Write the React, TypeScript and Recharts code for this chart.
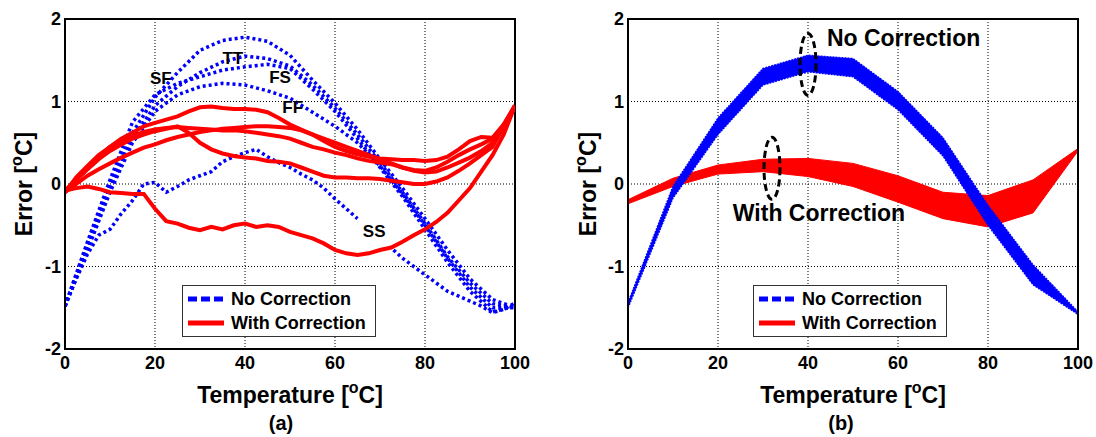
import React from 'react';
import {
  LineChart,
  Line,
  ComposedChart,
  Area,
  XAxis,
  YAxis,
  CartesianGrid,
  ReferenceArea,
  ReferenceDot,
} from 'recharts';

// ---- panel (a): measured error curves ----
const tempStep5 = [0, 5, 10, 15, 20, 25, 30, 35, 40, 45, 50, 55, 60, 65, 70, 75, 80, 85, 90, 95, 100];
const ttErr = [-1.48, -0.72, 0.0, 0.62, 1.05, 1.35, 1.62, 1.74, 1.78, 1.73, 1.56, 1.26, 0.98, 0.66, 0.3, -0.05, -0.42, -0.8, -1.15, -1.4, -1.5];
const fsErr = [-1.48, -0.78, -0.05, 0.55, 0.95, 1.18, 1.35, 1.48, 1.55, 1.52, 1.43, 1.2, 0.92, 0.6, 0.26, -0.1, -0.48, -0.88, -1.2, -1.45, -1.5];
const ffErr = [-1.48, -0.8, -0.1, 0.5, 0.88, 1.08, 1.18, 1.22, 1.2, 1.13, 1.04, 0.87, 0.7, 0.5, 0.22, -0.12, -0.5, -0.9, -1.25, -1.5, -1.5];
const sfErr = [-1.48, -0.7, 0.05, 0.75, 1.08, 1.22, 1.3, 1.38, 1.42, 1.45, 1.4, 1.15, 0.88, 0.55, 0.2, -0.15, -0.55, -0.95, -1.3, -1.55, -1.48];

const ssTempA = [0, 2.5, 5, 7.5, 10, 12.5, 15, 17.5, 20, 22.5, 25, 27.5, 30, 32.5, 35, 37.5, 40, 42.5, 45, 47.5, 50, 52.5, 55, 57.5, 60, 62.5, 65];
const ssErrA = [-1.48, -1.15, -0.85, -0.62, -0.55, -0.36, -0.2, 0.0, 0.02, -0.1, -0.03, 0.05, 0.1, 0.15, 0.27, 0.33, 0.38, 0.42, 0.33, 0.26, 0.2, 0.12, 0.05, -0.05, -0.18, -0.3, -0.42];
const ssTempB = [73, 75, 77.5, 80, 82.5, 85, 87.5, 90, 92.5, 95, 97.5, 100];
const ssErrB = [-0.8, -0.9, -1.0, -1.1, -1.2, -1.3, -1.36, -1.42, -1.48, -1.56, -1.52, -1.44];

const tempStep25 = [0, 2.5, 5, 7.5, 10, 12.5, 15, 17.5, 20, 22.5, 25, 27.5, 30, 32.5, 35, 37.5, 40, 42.5, 45, 47.5, 50, 52.5, 55, 57.5, 60, 62.5, 65, 67.5, 70, 72.5, 75, 77.5, 80, 82.5, 85, 87.5, 90, 92.5, 95, 97.5, 100];
const corr1 = [-0.08, 0.05, 0.18, 0.32, 0.45, 0.55, 0.62, 0.7, 0.74, 0.78, 0.82, 0.88, 0.93, 0.94, 0.92, 0.91, 0.91, 0.9, 0.87, 0.8, 0.72, 0.66, 0.6, 0.52, 0.45, 0.4, 0.36, 0.33, 0.31, 0.3, 0.29, 0.29, 0.28, 0.29, 0.33, 0.42, 0.52, 0.57, 0.56, 0.72, 0.95];
const corr2 = [-0.1, 0.0, 0.1, 0.18, 0.25, 0.32, 0.38, 0.44, 0.48, 0.53, 0.57, 0.6, 0.63, 0.65, 0.67, 0.68, 0.69, 0.7, 0.7, 0.69, 0.68, 0.65, 0.6, 0.55, 0.5, 0.45, 0.4, 0.35, 0.3, 0.25, 0.2, 0.16, 0.14, 0.15, 0.2, 0.26, 0.32, 0.4, 0.5, 0.68, 0.95];
const corr3 = [-0.1, 0.08, 0.22, 0.35, 0.45, 0.52, 0.58, 0.63, 0.66, 0.68, 0.69, 0.68, 0.67, 0.66, 0.65, 0.65, 0.64, 0.62, 0.6, 0.58, 0.55, 0.5, 0.45, 0.42, 0.38, 0.35, 0.31, 0.28, 0.26, 0.24, 0.2, 0.17, 0.16, 0.2, 0.27, 0.35, 0.42, 0.48, 0.55, 0.72, 0.95];
const corr4 = [-0.1, 0.05, 0.18, 0.3, 0.4, 0.48, 0.55, 0.6, 0.64, 0.67, 0.7, 0.62, 0.5, 0.42, 0.37, 0.34, 0.32, 0.31, 0.28, 0.27, 0.25, 0.2, 0.15, 0.1, 0.08, 0.08, 0.07, 0.07, 0.06, 0.04, 0.02, 0.0, 0.0, 0.03, 0.08, 0.16, 0.25, 0.35, 0.45, 0.7, 0.95];
const corr5 = [-0.08, -0.05, -0.03, -0.06, -0.1, -0.11, -0.12, -0.12, -0.3, -0.45, -0.48, -0.53, -0.56, -0.52, -0.55, -0.5, -0.48, -0.52, -0.5, -0.52, -0.58, -0.62, -0.66, -0.72, -0.8, -0.84, -0.86, -0.84, -0.8, -0.77, -0.7, -0.62, -0.55, -0.46, -0.35, -0.2, -0.05, 0.15, 0.35, 0.6, 0.95];

// ---- panel (b): simulated error bands ----
const tempStep10 = [0, 10, 20, 30, 40, 50, 60, 70, 80, 90, 100];
const noCorrLo = [-1.5, -0.17, 0.6, 1.2, 1.36, 1.3, 0.9, 0.34, -0.5, -1.22, -1.58];
const noCorrHi = [-1.44, -0.03, 0.8, 1.4, 1.56, 1.52, 1.12, 0.56, -0.26, -0.98, -1.55];
const withCorrLo = [-0.24, -0.03, 0.12, 0.15, 0.09, -0.03, -0.22, -0.42, -0.52, -0.35, 0.4];
const withCorrHi = [-0.19, 0.07, 0.23, 0.3, 0.31, 0.25, 0.1, -0.1, -0.14, 0.05, 0.43];

const xTicks = [0, 20, 40, 60, 80, 100];
const yTicks = [-2, -1, 0, 1, 2];

const FONT = '"Liberation Sans", Arial, sans-serif';
const BLUE = '#0000ff';
const RED = '#ff0000';

const pts = (xs: number[], ys: number[]) => xs.map((t, i) => ({ t, v: ys[i] }));

const bandData = tempStep10.map((t, i) => ({
  t,
  blue: [noCorrLo[i], noCorrHi[i]],
  red: [withCorrLo[i], withCorrHi[i]],
}));

const tickStyle = { fontSize: 18, fontWeight: 'bold', fill: '#000', fontFamily: FONT };

const textShape = (s: string, size: number, anchor: string = 'middle') => (p: any) => (
  <text
    x={p.cx}
    y={p.cy}
    textAnchor={anchor}
    dominantBaseline="central"
    fontSize={size}
    fontWeight="bold"
    fontFamily={FONT}
    fill="#000"
  >
    {s}
  </text>
);

const ellipseShape = (p: any) => (
  <ellipse
    cx={p.cx}
    cy={p.cy}
    rx={8}
    ry={31}
    fill="none"
    stroke="#000"
    strokeWidth={3}
    strokeDasharray="7 4"
  />
);

const Legend: React.FC<{ left: number; top: number }> = ({ left, top }) => (
  <div
    style={{
      position: 'absolute',
      left,
      top,
      width: 192,
      height: 50,
      border: '1px solid #333',
      background: '#fff',
      fontFamily: FONT,
      fontWeight: 'bold',
      fontSize: 18,
    }}
  >
    <div style={{ position: 'absolute', left: 4, top: 2, display: 'flex', alignItems: 'center', height: 22 }}>
      <svg width={38} height={10}>
        <line x1={1} y1={5} x2={37} y2={5} stroke={BLUE} strokeWidth={5} strokeDasharray="9 4" />
      </svg>
      <span style={{ marginLeft: 6 }}>No Correction</span>
    </div>
    <div style={{ position: 'absolute', left: 4, top: 26, display: 'flex', alignItems: 'center', height: 22 }}>
      <svg width={38} height={10}>
        <line x1={1} y1={5} x2={37} y2={5} stroke={RED} strokeWidth={5} />
      </svg>
      <span style={{ marginLeft: 6 }}>With Correction</span>
    </div>
  </div>
);

const Sup: React.FC = () => (
  <span style={{ fontSize: 16, position: 'relative', top: -10, lineHeight: 0 }}>o</span>
);

const AxisTitles: React.FC<{ plotLeft: number; yLabelX: number; tag: string; tagX: number }> = ({ plotLeft, yLabelX, tag, tagX }) => (
  <>
    <div
      style={{
        position: 'absolute',
        left: plotLeft + 225 - 150,
        top: 381,
        width: 300,
        textAlign: 'center',
        fontFamily: FONT,
        fontWeight: 'bold',
        fontSize: 23,
        lineHeight: '28px',
      }}
    >
      Temperature [<Sup />C]
    </div>
    <div
      style={{
        position: 'absolute',
        left: tagX - 30,
        top: 411,
        width: 60,
        textAlign: 'center',
        fontFamily: FONT,
        fontWeight: 'bold',
        fontSize: 20,
        lineHeight: '24px',
      }}
    >
      {tag}
    </div>
    <div
      style={{
        position: 'absolute',
        left: yLabelX - 100,
        top: 184 - 14,
        width: 200,
        height: 28,
        textAlign: 'center',
        fontFamily: FONT,
        fontWeight: 'bold',
        fontSize: 23,
        lineHeight: '28px',
        transform: 'rotate(-90deg)',
      }}
    >
      Error [<Sup />C]
    </div>
  </>
);

const dotted = { stroke: BLUE, strokeWidth: 3.5, strokeDasharray: '3 3', dot: false, isAnimationActive: false, type: 'linear' as const };
const solid = { stroke: RED, strokeWidth: 4, dot: false, isAnimationActive: false, type: 'linear' as const };

const App: React.FC = () => {
  const margin = { top: 19, right: 25, bottom: 58, left: 15 };
  const marginB = { top: 19, right: 18, bottom: 58, left: 18 };

  return (
    <div style={{ position: 'absolute', left: 0, top: 0, width: 1096, height: 437, background: '#fff', overflow: 'hidden' }}>
      <div style={{ position: 'absolute', left: 0, top: 0 }}>
        <LineChart width={540} height={437} margin={margin}>
          <CartesianGrid stroke="#000" strokeDasharray="1 2" strokeWidth={1} />
          <XAxis
            type="number"
            dataKey="t"
            domain={[0, 100]}
            ticks={xTicks}
            height={30}
            tickSize={0}
            tickMargin={7}
            tick={tickStyle}
            axisLine={{ stroke: '#000', strokeWidth: 2 }}
            allowDataOverflow
          />
          <YAxis
            type="number"
            domain={[-2, 2]}
            ticks={yTicks}
            width={50}
            tickSize={0}
            tickMargin={4}
            tick={tickStyle}
            axisLine={{ stroke: '#000', strokeWidth: 2 }}
            allowDataOverflow
          />
          <Line data={pts(tempStep5, ttErr)} dataKey="v" {...dotted} />
          <Line data={pts(tempStep5, fsErr)} dataKey="v" {...dotted} />
          <Line data={pts(tempStep5, ffErr)} dataKey="v" {...dotted} />
          <Line data={pts(tempStep5, sfErr)} dataKey="v" {...dotted} />
          <Line data={pts(ssTempA, ssErrA)} dataKey="v" {...dotted} />
          <Line data={pts(ssTempB, ssErrB)} dataKey="v" {...dotted} />
          <Line data={pts(tempStep25, corr1)} dataKey="v" {...solid} />
          <Line data={pts(tempStep25, corr2)} dataKey="v" {...solid} />
          <Line data={pts(tempStep25, corr3)} dataKey="v" {...solid} />
          <Line data={pts(tempStep25, corr4)} dataKey="v" {...solid} />
          <Line data={pts(tempStep25, corr5)} dataKey="v" {...solid} />
          <ReferenceDot x={21.3} y={1.28} shape={textShape('SF', 17)} />
          <ReferenceDot x={37.3} y={1.52} shape={textShape('TT', 17)} />
          <ReferenceDot x={47.8} y={1.29} shape={textShape('FS', 17)} />
          <ReferenceDot x={50.6} y={0.93} shape={textShape('FF', 17)} />
          <ReferenceDot x={68.7} y={-0.58} shape={textShape('SS', 17)} />
          <ReferenceArea x1={0} x2={100} y1={-2} y2={2} fill="none" stroke="#000" strokeWidth={2} />
        </LineChart>
      </div>

      <div style={{ position: 'absolute', left: 560, top: 0 }}>
        <ComposedChart width={536} height={437} margin={marginB} data={bandData}>
          <CartesianGrid stroke="#000" strokeDasharray="1 2" strokeWidth={1} />
          <XAxis
            type="number"
            dataKey="t"
            domain={[0, 100]}
            ticks={xTicks}
            height={30}
            tickSize={0}
            tickMargin={7}
            tick={tickStyle}
            axisLine={{ stroke: '#000', strokeWidth: 2 }}
            allowDataOverflow
          />
          <YAxis
            type="number"
            domain={[-2, 2]}
            ticks={yTicks}
            width={50}
            tickSize={0}
            tickMargin={4}
            tick={tickStyle}
            axisLine={{ stroke: '#000', strokeWidth: 2 }}
            allowDataOverflow
          />
          <Area
            type="linear"
            dataKey="red"
            stroke={RED}
            strokeWidth={1}
            fill={RED}
            fillOpacity={1}
            isAnimationActive={false}
          />
          <Area
            type="linear"
            dataKey="blue"
            stroke={BLUE}
            strokeWidth={1.5}
            strokeDasharray="2 1"
            fill={BLUE}
            fillOpacity={1}
            isAnimationActive={false}
          />
          <ReferenceDot x={40} y={1.45} shape={ellipseShape} />
          <ReferenceDot x={32} y={0.19} shape={ellipseShape} />
          <ReferenceDot x={44.2} y={1.77} shape={textShape('No Correction', 23, 'start')} />
          <ReferenceDot x={23.3} y={-0.35} shape={textShape('With Correction', 23, 'start')} />
          <ReferenceArea x1={0} x2={100} y1={-2} y2={2} fill="none" stroke="#000" strokeWidth={2} />
        </ComposedChart>
      </div>

      <Legend left={182} top={285} />
      <Legend left={753} top={285} />
      <AxisTitles plotLeft={65} yLabelX={24} tag="(a)" tagX={281} />
      <AxisTitles plotLeft={628} yLabelX={588} tag="(b)" tagX={841} />
    </div>
  );
};

export default App;
